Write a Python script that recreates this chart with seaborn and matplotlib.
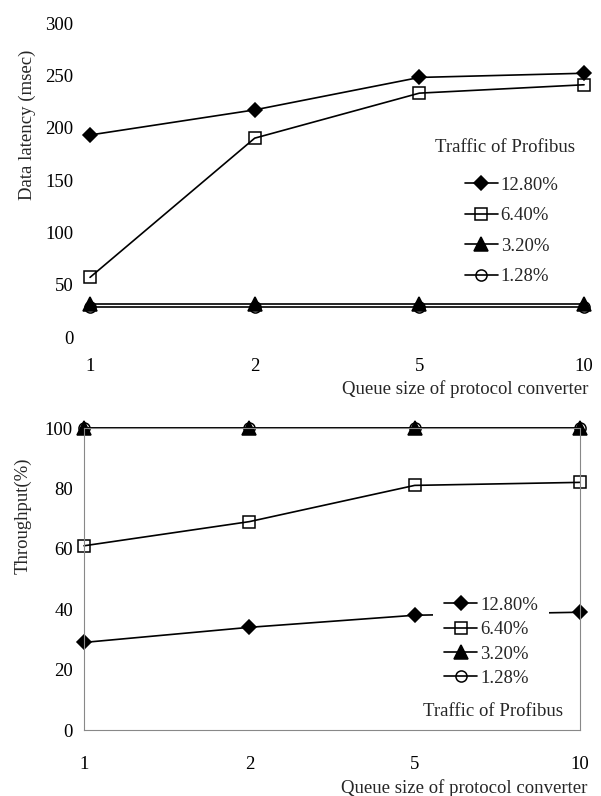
import numpy as np
import pandas as pd
import matplotlib
matplotlib.use("Agg")
import matplotlib.pyplot as plt
import seaborn as sns

# ---- data ----
queue_sizes = ["1", "2", "5", "10"]
traffic_labels = ["12.80%", "6.40%", "3.20%", "1.28%"]

latency_1280 = [193, 217, 248, 252]
latency_640 = [57, 190, 233, 241]
latency_320 = [32, 32, 32, 32]
latency_128 = [29, 29, 29, 29]

throughput_1280 = [29, 34, 38, 39]
throughput_640 = [61, 69, 81, 82]
throughput_320 = [100, 100, 100, 100]
throughput_128 = [100, 100, 100, 100]

latency_ticks = [0, 50, 100, 150, 200, 250, 300]
throughput_ticks = [0, 20, 40, 60, 80, 100]

sns.set_theme(style="white")
plt.rcParams["font.family"] = ["Liberation Serif", "DejaVu Serif"]
FS = 13.5
plt.rcParams["font.size"] = FS

markers = ["D", "s", "^", "o"]
msizes = [7, 8.5, 9.5, 8]
faces = ["black", "none", "black", "none"]

fig = plt.figure(figsize=(6.01, 7.96), dpi=100)
ax1 = fig.add_axes([0.1498, 0.5766, 0.822, 0.3945])
ax2 = fig.add_axes([0.1398, 0.0829, 0.8253, 0.3794])

pos = np.arange(len(queue_sizes))


def draw(ax, series):
    handles = []
    for vals, lab, mk, ms, fc in zip(series, traffic_labels, markers, msizes, faces):
        df = pd.DataFrame({"x": pos, "y": vals})
        n_before = len(ax.lines)
        sns.lineplot(data=df, x="x", y="y", ax=ax, color="black", lw=1.2,
                     marker=mk, markersize=ms, markerfacecolor=fc,
                     markeredgecolor="black", markeredgewidth=1.1,
                     clip_on=False, label=lab, legend=False)
        handles.append(ax.lines[n_before])
    return handles


h1 = draw(ax1, [latency_1280, latency_640, latency_320, latency_128])
h2 = draw(ax2, [throughput_1280, throughput_640, throughput_320, throughput_128])

for ax in (ax1, ax2):
    ax.set_xlim(0, 3)
    ax.set_xticks(pos)
    ax.set_xticklabels(queue_sizes)
    ax.set_xlabel("")
    ax.set_ylabel("")
    ax.tick_params(axis="both", length=0, labelsize=FS, colors="black")

# top axes
ax1.set_ylim(0, 300)
ax1.set_yticks(latency_ticks)
ax1.tick_params(axis="x", pad=15)
ax1.tick_params(axis="y", pad=12)
for s in ax1.spines.values():
    s.set_visible(False)
ax1.text(-0.1275, 0.675, "Data latency (msec)", transform=ax1.transAxes,
         rotation=90, ha="center", va="center", fontsize=FS)
ax1.text(1.008, -0.166, "Queue size of protocol converter", transform=ax1.transAxes,
         ha="right", va="center", fontsize=FS)
ax1.text(0.698, 0.605, "Traffic of Profibus", transform=ax1.transAxes,
         ha="left", va="center", fontsize=FS)
ax1.legend(h1, traffic_labels, loc="center left", bbox_to_anchor=(0.759, 0.338),
           frameon=False, borderpad=0, borderaxespad=0, handlelength=1.75,
           handletextpad=0.15, labelspacing=0.72, fontsize=FS)

# bottom axes
ax2.set_ylim(0, 100)
ax2.set_yticks(throughput_ticks)
ax2.tick_params(axis="x", pad=19)
ax2.tick_params(axis="y", pad=8)
for s in ax2.spines.values():
    s.set_visible(True)
    s.set_color("#888888")
    s.set_linewidth(0.8)
ax2.text(-0.123, 0.709, "Throughput(%)", transform=ax2.transAxes,
         rotation=90, ha="center", va="center", fontsize=FS)
ax2.text(1.014, -0.192, "Queue size of protocol converter", transform=ax2.transAxes,
         ha="right", va="center", fontsize=FS)
leg2 = ax2.legend(h2, traffic_labels, loc="center left", bbox_to_anchor=(0.704, 0.292),
                  frameon=True, facecolor="white", edgecolor="none", framealpha=1,
                  fancybox=False, borderpad=0.6, borderaxespad=0, handlelength=1.75,
                  handletextpad=0.15, labelspacing=0.38, fontsize=FS)
leg2.set_zorder(5)
ax2.text(0.683, 0.060, "Traffic of Profibus", transform=ax2.transAxes,
         ha="left", va="center", fontsize=FS, zorder=6)

fig.savefig("out.png", dpi=100, facecolor="white")
